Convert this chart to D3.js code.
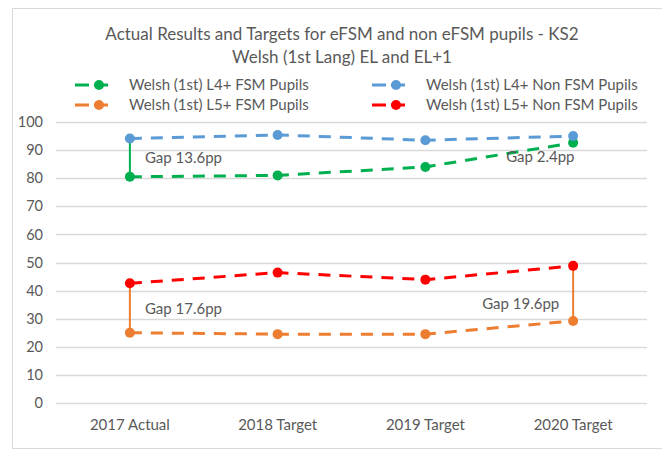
<!DOCTYPE html>
<html>
<head>
<meta charset="utf-8">
<script src="https://cdn.jsdelivr.net/npm/d3@7"></script>
<style>
  body { margin: 0; background: #fff; }
  svg { display: block; font-family: Lato, "Open Sans", sans-serif; }
</style>
</head>
<body>
<svg id="chart" width="662" height="450"></svg>
<script>
// categories and series
const categories = ["2017 Actual", "2018 Target", "2019 Target", "2020 Target"];
const l4Fsm = [80.5, 81.0, 84.0, 92.6];
const l4NonFsm = [94.1, 95.4, 93.5, 95.0];
const l5Fsm = [25.0, 24.5, 24.5, 29.2];
const l5NonFsm = [42.6, 46.4, 43.9, 48.8];
const yTicks = [0, 10, 20, 30, 40, 50, 60, 70, 80, 90, 100];

// gap annotations: category index, upper series, lower series, label
const gaps = [
    { i: 0, hi: l4NonFsm, lo: l4Fsm, color: "#00b050", text: "Gap 13.6pp", dx: 15, dy: 0, connector: true },
    { i: 3, hi: l4NonFsm, lo: l4Fsm, color: "#00b050", text: "Gap 2.4pp", dx: -67, dy: 17.5, connector: false },
    { i: 0, hi: l5NonFsm, lo: l5Fsm, color: "#ed7d31", text: "Gap 17.6pp", dx: 15, dy: 1, connector: true },
    { i: 3, hi: l5NonFsm, lo: l5Fsm, color: "#ed7d31", text: "Gap 19.6pp", dx: -91, dy: 10.5, connector: true }
];

const series = [
    { name: "Welsh (1st) L4+ FSM Pupils", values: l4Fsm, color: "#00b050" },
    { name: "Welsh (1st) L4+ Non FSM Pupils", values: l4NonFsm, color: "#5b9bd5" },
    { name: "Welsh (1st) L5+ FSM Pupils", values: l5Fsm, color: "#ed7d31" },
    { name: "Welsh (1st) L5+ Non FSM Pupils", values: l5NonFsm, color: "#ff0000" }
];

const svg = d3.select("#chart");
const textColor = "#595959";
const gridColor = "#d9d9d9";
const fontSize = 15;

// outer chart border
svg.append("rect")
    .attr("x", 12.5).attr("y", 8.5)
    .attr("width", 680).attr("height", 440)
    .attr("fill", "#fff")
    .attr("stroke", "#d9d9d9");

// title
const title = svg.append("text")
    .attr("text-anchor", "middle")
    .attr("fill", textColor)
    .attr("font-size", 17);
title.append("tspan").attr("x", 342).attr("y", 40).text("Actual Results and Targets for eFSM and non eFSM pupils - KS2");
title.append("tspan").attr("x", 342).attr("y", 63).text("Welsh (1st Lang) EL and EL+1");

const plotLeft = 56, plotRight = 647, plotTop = 122, plotBottom = 403;

const x = d3.scaleBand().domain(categories).range([plotLeft, plotRight]);
const y = d3.scaleLinear().domain([0, 100]).range([plotBottom, plotTop]);
const cx = (i) => x(categories[i]) + x.bandwidth() / 2;

// gridlines
svg.append("g")
    .selectAll("line")
    .data(yTicks)
    .join("line")
    .attr("x1", plotLeft).attr("x2", plotRight)
    .attr("y1", d => Math.round(y(d)) + 0.5)
    .attr("y2", d => Math.round(y(d)) + 0.5)
    .attr("stroke", gridColor)
    .attr("stroke-width", 1.5);

// y axis labels
const yAxis = svg.append("g")
    .attr("transform", "translate(" + (plotLeft - 13) + ",0)")
    .call(d3.axisLeft(y).tickValues(yTicks).tickSize(0).tickPadding(0));
yAxis.select(".domain").remove();
yAxis.selectAll("text")
    .attr("fill", textColor)
    .attr("font-size", 14.5)
    .attr("font-family", "Lato, 'Open Sans', sans-serif");

// x axis labels
const xAxis = svg.append("g")
    .attr("transform", "translate(0," + (plotBottom + 16) + ")")
    .call(d3.axisBottom(x).tickSize(0).tickPadding(0));
xAxis.select(".domain").remove();
xAxis.selectAll("text")
    .attr("fill", textColor)
    .attr("font-size", fontSize)
    .attr("font-family", "Lato, 'Open Sans', sans-serif");

// gap connector lines (solid, drawn behind the series)
gaps.filter(g => g.connector).forEach(g => {
    svg.append("line")
        .attr("x1", cx(g.i)).attr("x2", cx(g.i))
        .attr("y1", y(g.hi[g.i])).attr("y2", y(g.lo[g.i]))
        .attr("stroke", g.color)
        .attr("stroke-width", 2);
});

// series lines
const line = d3.line()
    .x((d, i) => cx(i))
    .y(d => y(d));

series.forEach(s => {
    svg.append("path")
        .datum(s.values)
        .attr("d", line)
        .attr("fill", "none")
        .attr("stroke", s.color)
        .attr("stroke-width", 3)
        .attr("stroke-dasharray", "12,9");
    svg.append("g")
        .selectAll("circle")
        .data(s.values)
        .join("circle")
        .attr("cx", (d, i) => cx(i))
        .attr("cy", d => y(d))
        .attr("r", 5)
        .attr("fill", s.color);
});

// gap labels
gaps.forEach(g => {
    const mid = (y(g.hi[g.i]) + y(g.lo[g.i])) / 2;
    svg.append("text")
        .attr("x", cx(g.i) + g.dx)
        .attr("y", mid + 5 + g.dy)
        .attr("fill", textColor)
        .attr("font-size", fontSize)
        .text(g.text);
});

// legend (two columns, two rows)
const legend = svg.append("g");
series.forEach((s, k) => {
    const col = k % 2, row = Math.floor(k / 2);
    const lx = col === 0 ? 75 : 372;
    const ly = row === 0 ? 85 : 105;
    const item = legend.append("g").attr("transform", "translate(" + lx + "," + ly + ")");
    item.append("line")
        .attr("x1", 0).attr("x2", 38)
        .attr("y1", 0).attr("y2", 0)
        .attr("stroke", s.color)
        .attr("stroke-width", 3)
        .attr("stroke-dasharray", "14,5");
    item.append("circle")
        .attr("cx", 24).attr("cy", 0).attr("r", 5)
        .attr("fill", s.color);
    item.append("text")
        .attr("x", 54).attr("y", 5)
        .attr("fill", textColor)
        .attr("font-size", fontSize)
        .text(s.name);
});
</script>
</body>
</html>
